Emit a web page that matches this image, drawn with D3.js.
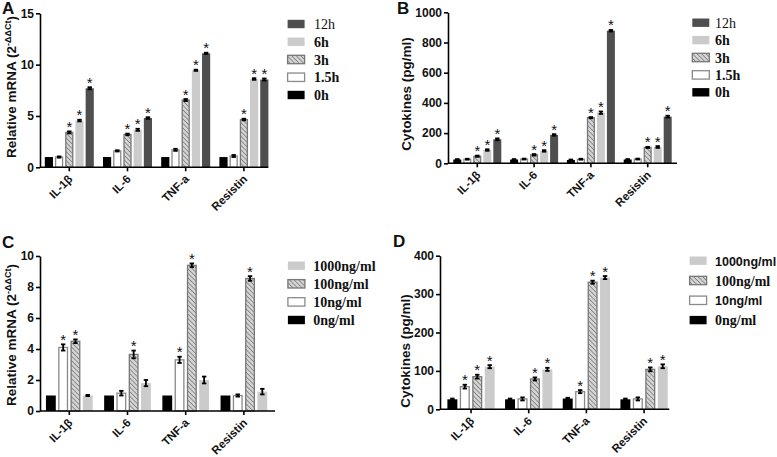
<!DOCTYPE html>
<html><head><meta charset="utf-8">
<script src="https://cdn.jsdelivr.net/npm/d3@7"></script>
<style>body{margin:0;background:#fff}</style>
</head><body>
<svg id="c" width="777" height="457"></svg>
<script>
// ---------- data ----------
const categories = ["IL-1β","IL-6","TNF-a","Resistin"];
const timeLabels = ["0h","1.5h","3h","6h","12h"];
const doseLabels = ["0ng/ml","10ng/ml","100ng/ml","1000ng/ml"];

// A: relative mRNA, time course
const mrnaT0 = [1,1,1,1];
const mrnaT15 = [1.0,1.6,1.7,1.1];
const mrnaT3 = [3.4,3.2,6.55,4.65];
const mrnaT6 = [4.55,3.65,9.45,8.6];
const mrnaT12 = [7.7,4.8,11.1,8.55];
const mrnaTErr0 = [0,0,0,0];
const mrnaTErr15 = [0.06,0.06,0.1,0.1];
const mrnaTErr3 = [0.1,0.08,0.1,0.08];
const mrnaTErr6 = [0.08,0.1,0.06,0.08];
const mrnaTErr12 = [0.1,0.08,0.06,0.1];
const mrnaTStar = [[0,0,0,0],[0,0,0,0],[1,1,1,1],[1,1,1,1],[1,1,1,1]];
const mrnaTTicks = [0,5,10,15];

// B: cytokines, time course
const cytoT0 = [25,25,22,25];
const cytoT15 = [27,28,27,28];
const cytoT3 = [47,56,302,105];
const cytoT6 = [88,82,335,108];
const cytoT12 = [159,188,878,309];
const cytoTErr0 = [3,3,3,3];
const cytoTErr15 = [3,3,3,3];
const cytoTErr3 = [4,5,4,4];
const cytoTErr6 = [5,5,8,6];
const cytoTErr12 = [6,5,5,6];
const cytoTStar = [[0,0,0,0],[0,0,0,0],[1,1,1,1],[1,1,1,1],[1,1,1,1]];
const cytoTTicks = [0,200,400,600,800,1000];

// C: relative mRNA, dose
const mrnaD0 = [1,1,1,1];
const mrnaD10 = [4.1,1.15,3.3,1.0];
const mrnaD100 = [4.5,3.65,9.4,8.55];
const mrnaD1000 = [1.0,1.8,2.0,1.25];
const mrnaDErr0 = [0,0,0,0];
const mrnaDErr10 = [0.2,0.15,0.2,0.07];
const mrnaDErr100 = [0.12,0.25,0.12,0.15];
const mrnaDErr1000 = [0.04,0.2,0.22,0.18];
const mrnaDStar = [[0,0,0,0],[1,0,1,0],[1,1,1,1],[0,0,0,0]];
const mrnaDTicks = [0,2,4,6,8,10];

// D: cytokines, dose
const cytoD0 = [26,26,28,26];
const cytoD10 = [59,27,46,27];
const cytoD100 = [85,79,331,104];
const cytoD1000 = [111,104,343,112];
const cytoDErr0 = [2,2,2,2];
const cytoDErr10 = [5,4,4,4];
const cytoDErr100 = [5,4,4,5];
const cytoDErr1000 = [4,4,4,5];
const cytoDStar = [[0,0,0,0],[1,0,1,0],[1,1,1,1],[1,1,1,1]];
const cytoDTicks = [0,100,200,300,400];

// ---------- drawing ----------
const svg = d3.select("#c");
const defs = svg.append("defs");
const pat = defs.append("pattern").attr("id","hatch").attr("patternUnits","userSpaceOnUse")
  .attr("width",3.2).attr("height",3.2).attr("patternTransform","rotate(-45)");
pat.append("rect").attr("width",3.2).attr("height",3.2).attr("fill","#d4d4d4");
pat.append("line").attr("x1",0).attr("y1",0).attr("x2",0).attr("y2",3.2).attr("stroke","#6a6a6a").attr("stroke-width",1.3);

const timeStyles = {
  "0h":{fill:"#000",stroke:"none"},
  "1.5h":{fill:"#fff",stroke:"#8a8a8a"},
  "3h":{fill:"url(#hatch)",stroke:"#777"},
  "6h":{fill:"#cbcbcb",stroke:"none"},
  "12h":{fill:"#4f4f4f",stroke:"none"}
};
const doseStyles = {
  "0ng/ml":{fill:"#000",stroke:"none"},
  "10ng/ml":{fill:"#fff",stroke:"#8a8a8a"},
  "100ng/ml":{fill:"url(#hatch)",stroke:"#777"},
  "1000ng/ml":{fill:"#cbcbcb",stroke:"none"}
};

const sans = "Arial, 'Liberation Sans', Helvetica, sans-serif";
const serif = "'Times New Roman', 'Liberation Serif', serif";

function panel(p){
  const g = svg.append("g");
  const y = d3.scaleLinear().domain([0, p.yMax]).range([p.y0, p.y1]);
  const x = d3.scaleBand().domain(categories).range(p.xRange);
  const inner = d3.scaleBand().domain(p.series).range([0, p.groupW]).paddingInner(0.2);

  p.series.forEach((s, si) => {
    const st = p.styles[s];
    const rows = categories.map((c, ci) => ({c, v: p.values[si][ci], e: p.errors[si][ci], star: p.stars[si][ci]}));
    const bx = d => x(d.c) + x.bandwidth()/2 - p.groupW/2 + inner(s);
    g.selectAll(null).data(rows).enter().append("rect")
      .attr("x", d => bx(d) + (st.stroke !== "none" ? 0.6 : 0))
      .attr("y", d => y(d.v))
      .attr("width", inner.bandwidth() - (st.stroke !== "none" ? 1.2 : 0))
      .attr("height", d => y(0) - y(d.v))
      .attr("fill", st.fill).attr("stroke", st.stroke).attr("stroke-width", 1.3);
    // error bars
    const eg = g.selectAll(null).data(rows.filter(d => d.e > 0)).enter().append("g")
      .attr("stroke","#000").attr("stroke-width",1.8);
    eg.append("line").attr("x1", d => bx(d)+inner.bandwidth()/2).attr("x2", d => bx(d)+inner.bandwidth()/2)
      .attr("y1", d => y(d.v + d.e)).attr("y2", d => y(d.v - d.e));
    eg.append("line").attr("x1", d => bx(d)+inner.bandwidth()/2-2.2).attr("x2", d => bx(d)+inner.bandwidth()/2+2.2)
      .attr("y1", d => y(d.v + d.e)).attr("y2", d => y(d.v + d.e));
    eg.append("line").attr("x1", d => bx(d)+inner.bandwidth()/2-2.2).attr("x2", d => bx(d)+inner.bandwidth()/2+2.2)
      .attr("y1", d => y(d.v - d.e)).attr("y2", d => y(d.v - d.e));
    // stars
    g.selectAll(null).data(rows.filter(d => d.star)).enter().append("text")
      .attr("x", d => bx(d)+inner.bandwidth()/2)
      .attr("y", d => y(d.v + d.e) + 0.5)
      .attr("text-anchor","middle").attr("font-family", sans).attr("font-size", 15).attr("fill","#111")
      .text("*");
  });

  // y axis
  const ya = g.append("g").attr("transform", `translate(${p.axisX},0)`)
    .call(d3.axisLeft(y).tickValues(p.ticks).tickSize(4).tickSizeOuter(0).tickPadding(2).tickFormat(d3.format("d")));
  ya.select(".domain").attr("stroke-width",1.6);
  ya.selectAll(".tick line").attr("stroke-width",1.6);
  ya.selectAll("text").attr("font-family", sans).attr("font-size", 12).attr("font-weight","bold").attr("fill","#111");

  // x axis
  const xa = g.append("g").attr("transform", `translate(0,${p.y0})`)
    .call(d3.axisBottom(x).tickSize(4).tickSizeOuter(0).tickPadding(0));
  xa.select(".domain").remove();
  xa.append("line").attr("x1", p.axisX).attr("x2", p.axisEnd).attr("stroke","#000").attr("stroke-width",1.6);
  xa.selectAll(".tick line").attr("stroke-width",1.6);
  xa.selectAll(".tick text").attr("font-family", sans).attr("font-size", 11.5).attr("font-weight","bold").attr("fill","#111")
    .attr("text-anchor","end").attr("y",0).attr("dy",0)
    .attr("transform","translate(4,12.5) rotate(-45)");

  // y title
  const t = g.append("text").attr("transform", `translate(${p.titleX},${p.titleY}) rotate(-90)`)
    .attr("text-anchor","middle").attr("font-family", sans).attr("font-size", 13.5).attr("font-weight","bold").attr("fill","#111");
  if (p.sup) {
    t.append("tspan").text(p.title);
    t.append("tspan").attr("font-size",9).attr("dy",-5).text(p.sup);
    t.append("tspan").attr("dy",5).text(")");
  } else t.text(p.title);

  // panel letter
  g.append("text").attr("x", p.letterX).attr("y", p.letterY).attr("font-family", sans).attr("font-size", 17)
    .attr("font-weight","bold").attr("fill","#111").text(p.letter);

  // legend
  const leg = p.series.slice().reverse();
  leg.forEach((s, i) => {
    const st = p.styles[s];
    const cy = p.legY + i * p.legStep;
    g.append("rect").attr("x", p.legBoxX + 0.6).attr("y", cy - 4.2).attr("width", 17).attr("height", 8.4)
      .attr("fill", st.fill).attr("stroke", st.stroke).attr("stroke-width", 1.3);
    const f = p.legFont(s);
    g.append("text").attr("x", p.legTextX).attr("y", cy + 5).attr("font-family", f.family)
      .attr("font-size", f.size).attr("font-weight", f.weight).attr("fill","#111").text(s);
  });
}

const timeFont = s => ({family: serif, size: 14, weight: s === "12h" ? "normal" : "bold"});

panel({
  letter:"A", letterX:2, letterY:14,
  series: timeLabels, styles: timeStyles,
  values:[mrnaT0,mrnaT15,mrnaT3,mrnaT6,mrnaT12],
  errors:[mrnaTErr0,mrnaTErr15,mrnaTErr3,mrnaTErr6,mrnaTErr12],
  stars: mrnaTStar, ticks: mrnaTTicks, yMax:15,
  y0:167.3, y1:13.3, xRange:[40.2,273], groupW:49, axisX:40, axisEnd:268.3,
  title:"Relative mRNA (2", sup:"-ΔΔCt", titleX:16, titleY:87,
  legY:24, legStep:17.75, legBoxX:287, legTextX:314, legFont: timeFont
});
panel({
  letter:"B", letterX:397, letterY:14,
  series: timeLabels, styles: timeStyles,
  values:[cytoT0,cytoT15,cytoT3,cytoT6,cytoT12],
  errors:[cytoTErr0,cytoTErr15,cytoTErr3,cytoTErr6,cytoTErr12],
  stars: cytoTStar, ticks: cytoTTicks, yMax:1000,
  y0:163.3, y1:12.3, xRange:[448.9,676.1], groupW:48, axisX:448, axisEnd:677,
  title:"Cytokines (pg/ml)", titleX:411, titleY:94,
  legY:22.7, legStep:17.4, legBoxX:691.7, legTextX:715, legFont: timeFont
});
panel({
  letter:"C", letterX:2, letterY:248,
  series: doseLabels, styles: doseStyles,
  values:[mrnaD0,mrnaD10,mrnaD100,mrnaD1000],
  errors:[mrnaDErr0,mrnaDErr10,mrnaDErr100,mrnaDErr1000],
  stars: mrnaDStar, ticks: mrnaDTicks, yMax:10,
  y0:411, y1:256, xRange:[40.2,273], groupW:46.7, axisX:40, axisEnd:275,
  title:"Relative mRNA (2", sup:"-ΔΔCt", titleX:16, titleY:335,
  legY:265.7, legStep:18.1, legBoxX:287.3, legTextX:313.3,
  legFont: s => ({family: serif, size: 14, weight:"bold"})
});
panel({
  letter:"D", letterX:393, letterY:247,
  series: doseLabels, styles: doseStyles,
  values:[cytoD0,cytoD10,cytoD100,cytoD1000],
  errors:[cytoDErr0,cytoDErr10,cytoDErr100,cytoDErr1000],
  stars: cytoDStar, ticks: cytoDTicks, yMax:400,
  y0:409.3, y1:255.7, xRange:[442.2,672.9], groupW:47.3, axisX:440, axisEnd:669.3,
  title:"Cytokines (pg/ml)", titleX:410, titleY:351,
  legY:260.7, legStep:19.8, legBoxX:689, legTextX:715,
  legFont: s => (s === "1000ng/ml" || s === "10ng/ml") ? {family: sans, size: 12.5, weight:"bold"} : {family: serif, size: 14, weight:"bold"}
});
</script>
</body></html>
